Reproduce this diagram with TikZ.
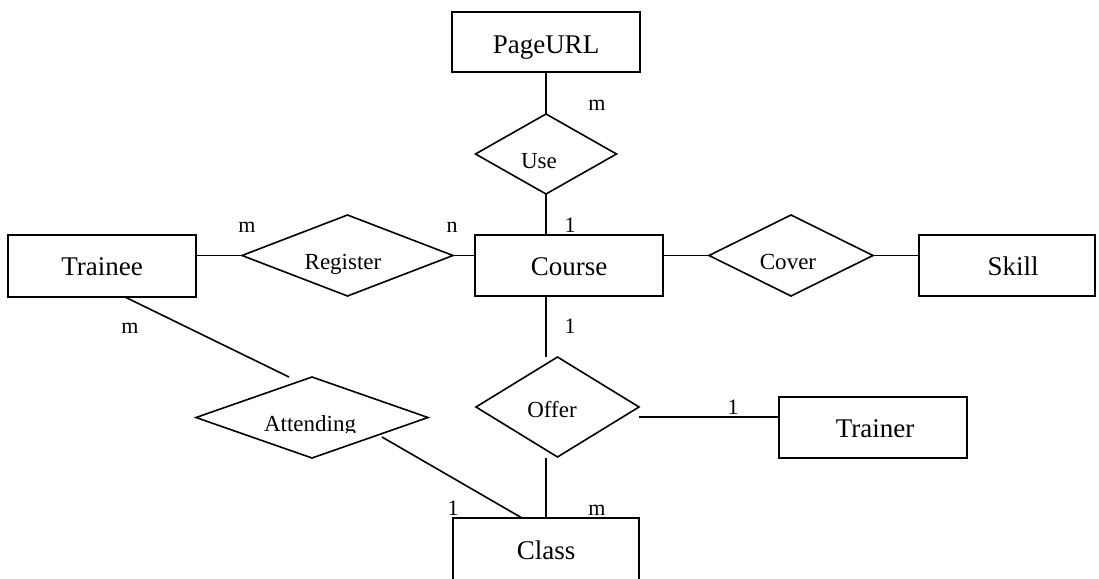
\documentclass[tikz,border=0pt]{standalone}
\usepackage{fontspec}
\setmainfont{Liberation Serif}
\usetikzlibrary{shapes.geometric}
\tikzset{
  ent/.style={draw, line width=1.6pt, rectangle, inner sep=0pt, outer sep=0pt},
  rel/.style={draw, line width=1.6pt, diamond, inner sep=0pt, outer sep=0pt},
  conn/.style={line width=1.6pt},
  big/.style={font=\fontsize{27}{30}\selectfont, anchor=base, inner sep=0pt},
  mid/.style={font=\fontsize{23}{26}\selectfont, anchor=base, inner sep=0pt},
  card/.style={font=\fontsize{22}{24}\selectfont, anchor=base, inner sep=0pt}
}
\begin{document}
\begin{tikzpicture}[x=1pt,y=-1pt]
\clip (0,0) rectangle (1099,578);
\fill[white] (0,0) rectangle (1099,578);
% entities
\node[ent, minimum width=188pt, minimum height=60pt] (pageurl) at (546,42) {};
\node[ent, minimum width=188pt, minimum height=61pt] (course) at (569,265.5) {};
\node[ent, minimum width=188pt, minimum height=62pt] (trainee) at (102,266) {};
\node[ent, minimum width=176pt, minimum height=61pt] (skill) at (1007,265.5) {};
\node[ent, minimum width=188pt, minimum height=61pt] (trainer) at (873,427.5) {};
\node[ent, minimum width=186pt, minimum height=124pt] (class) at (546,580) {};
% relationships
\node[rel, minimum width=141pt, minimum height=80pt] (use) at (546,154) {};
\node[rel, minimum width=211pt, minimum height=81pt] (register) at (347.5,255.5) {};
\node[rel, minimum width=164pt, minimum height=81pt] (cover) at (791,255.5) {};
\node[rel, minimum width=163pt, minimum height=100pt] (offer) at (557.5,407) {};
\node[rel, minimum width=232pt, minimum height=81pt] (attending) at (312,417.5) {};
% texts
\node[big] (t-pageurl) at (546,53) {PageURL};
\node[big] (t-course) at (569,275) {Course};
\node[big] (t-trainee) at (102,275) {Trainee};
\node[big] (t-skill) at (1013,275) {Skill};
\node[big] (t-trainer) at (875,437) {Trainer};
\node[big] (t-class) at (546,559) {Class};
\node[mid] (t-use) at (539,168) {Use};
\node[mid] (t-register) at (343,269) {Register};
\node[mid] (t-cover) at (788,269) {Cover};
\node[mid] (t-offer) at (552,417) {Offer};
\begin{scope}
\clip (150,380) rectangle (450,432);
\node[mid] (t-attending) at (310,431) {Attending};
\end{scope}
% coordinates for free ends
\coordinate (offtop) at (546,357);
\coordinate (offr) at (639,417);
\coordinate (offb) at (546,458);
\coordinate (tr1) at (125,297);
\coordinate (at1) at (289,377);
\coordinate (at2) at (382,437);
\coordinate (cl1) at (522,518);
% connectors
\draw[conn] (use.north |- pageurl.south) -- (use.north);
\draw[conn] (use.south) -- (use.south |- course.north);
\draw[conn] (register.west) -- (register.west -| trainee.east);
\draw[conn] (register.east) -- (register.east -| course.west);
\draw[conn] (cover.west) -- (cover.west -| course.east);
\draw[conn] (cover.east) -- (cover.east -| skill.west);
\draw[conn] (offtop |- course.south) -- (offtop);
\draw[conn] (offr) -- (offr -| trainer.west);
\draw[conn] (offb) -- (offb |- class.north);
\draw[conn] (tr1) -- (at1);
\draw[conn] (at2) -- (cl1);
% cardinalities
\node[card] (c1) at (597,110) {m};
\node[card] (c2) at (570,232) {1};
\node[card] (c3) at (247,232) {m};
\node[card] (c4) at (452,232) {n};
\node[card] (c5) at (130,333) {m};
\node[card] (c6) at (570,333) {1};
\node[card] (c7) at (733,414) {1};
\node[card] (c8) at (453,515) {1};
\node[card] (c9) at (597,515) {m};
\end{tikzpicture}
\end{document}
